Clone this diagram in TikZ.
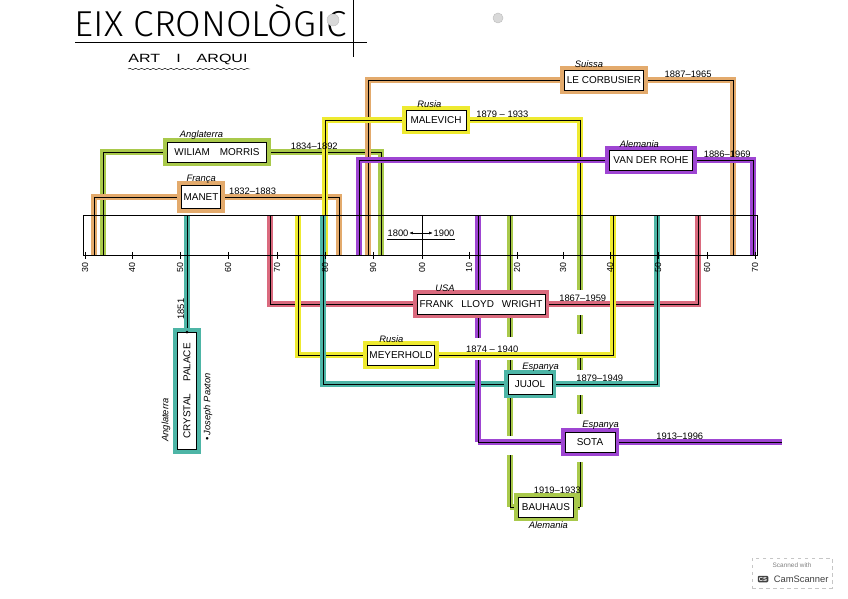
\documentclass[tikz,border=0pt]{standalone}
\usepackage{fontspec}
\setmainfont{Liberation Sans}
\newfontfamily\titlefont{Fira Sans Light}
\usetikzlibrary{positioning,arrows.meta,decorations.pathmorphing,backgrounds}

\definecolor{cgreen}{HTML}{A9C94B}
\definecolor{corange}{HTML}{E3AA6C}
\definecolor{cyellow}{HTML}{EEEA30}
\definecolor{cpurple}{HTML}{9E45D2}
\definecolor{cred}{HTML}{DA6A7E}
\definecolor{cteal}{HTML}{4DB5A6}

\tikzset{
  life/.style={draw=black, line width=0.6pt, preaction={draw=#1, line width=4.5pt}},
  namebox/.style={draw=black, fill=white, line width=0.8pt, inner sep=2pt,
    minimum height=0.6cm, font=\fontsize{8.5}{9}\selectfont,
    preaction={draw=#1, line width=7pt}},
  country/.style={font=\fontsize{8}{9}\selectfont\itshape, inner sep=0.5pt},
  dates/.style={font=\fontsize{8}{9}\selectfont, inner sep=0.5pt},
  decade/.style={font=\fontsize{7.5}{8}\selectfont, rotate=90, inner sep=0.5pt},
}

\begin{document}
\begin{tikzpicture}[x=0.03cm, y=-0.03cm]
    \useasboundingbox (0,0) rectangle (848,599);
    % title
    \node[inner sep=0pt] (title) at (211,21) {\resizebox{8.16cm}{0.96cm}{\titlefont EIX CRONOLÒGIC}};
    \draw[line width=0.8pt] (75,42) -- (367,42);
    \draw[line width=0.8pt] (353,0) -- (353,57);
    \node[inner sep=0pt] (subtitle) at (188,59) {\resizebox{3.57cm}{0.25cm}{ART\hspace{1em}I\hspace{1em}ARQUI}};
    \draw[decorate, decoration={snake, amplitude=0.6pt, segment length=5pt}] (128,69) -- (250,69);
    \filldraw[fill=gray!30, draw=gray!50] (333,20) circle (0.18cm);
    \filldraw[fill=gray!30, draw=gray!50] (498,18) circle (0.15cm);
    % axis
    \draw[line width=0.7pt] (83,215) rectangle (757,255);
    \draw (422,215) -- (422,255);
    \foreach \xx/\lab in {85/30,132/40,180/50,228/60,277/70,325/80,373/90,422/00,
                          469/10,517/20,563/30,610/40,658/50,707/60,755/70} {
        \draw (\xx,252) -- (\xx,259);
        \node[decade, anchor=east] at (\xx,262) {\lab};
    }
    \node[dates] (from) at (398,233) {1800};
    \node[dates] (to) at (444,233) {1900};
    \draw[{Latex[length=3pt]}-{Latex[length=3pt]}] (from.east) -- (to.west);
    \draw ([yshift=-1.5pt]from.south west) -- ([yshift=-1.5pt]to.south east);
    % people above the axis
    \node[namebox=cgreen, minimum width=2.97cm] (morris) at (217,152) {WILIAM\hspace{1em}MORRIS};
    \node[country, above right=1pt and 0.36cm of morris.north west] (morrisC) {Anglaterra};
    \node[dates, above right=1pt and 0.69cm of morris.east] (morrisD) {1834–1892};
    \node[namebox=corange, minimum width=1.14cm, minimum height=0.69cm] (manet) at (201,197) {MANET};
    \node[country, above right=1pt and 0.15cm of manet.north west] (manetC) {França};
    \node[dates, above right=1pt and 0.21cm of manet.east] (manetD) {1832–1883};
    \node[namebox=corange, minimum width=2.31cm] (corb) at (604,80) {LE CORBUSIER};
    \node[country, above right=1pt and 0.3cm of corb.north west] (corbC) {Suissa};
    \node[dates, above right=1pt and 0.6cm of corb.east] (corbD) {1887–1965};
    \node[namebox=cyellow, minimum width=1.8cm] (malevich) at (436,120) {MALEVICH};
    \node[country, above right=1pt and 0.33cm of malevich.north west] (malevichC) {Rusia};
    \node[dates, above right=1pt and 0.27cm of malevich.east] (malevichD) {1879 – 1933};
    \node[namebox=cpurple, minimum width=2.49cm] (vdr) at (651,160) {VAN DER ROHE};
    \node[country, above right=1pt and 0.3cm of vdr.north west] (vdrC) {Alemania};
    \node[dates, above right=1pt and 0.3cm of vdr.east] (vdrD) {1886–1969};
    % people below the axis
    \node[namebox=cred, minimum width=3.84cm] (wright) at (481,304) {FRANK\hspace{0.8em}LLOYD\hspace{0.8em}WRIGHT};
    \node[country, above right=1pt and 0.54cm of wright.north west] (wrightC) {USA};
    \node[dates, above right=1pt and 0.39cm of wright.east] (wrightD) {1867–1959};
    \node[namebox=cyellow, minimum width=2.01cm] (meyer) at (401,355) {MEYERHOLD};
    \node[country, above right=1pt and 0.36cm of meyer.north west] (meyerC) {Rusia};
    \node[dates, above right=1pt and 0.9cm of meyer.east] (meyerD) {1874 – 1940};
    \node[namebox=cteal, minimum width=1.32cm] (jujol) at (530,384) {JUJOL};
    \node[country, above right=1pt and 0.42cm of jujol.north west] (jujolC) {Espanya};
    \node[dates, above right=1pt and 0.69cm of jujol.east] (jujolD) {1879–1949};
    \node[namebox=cpurple, minimum width=1.5cm] (sota) at (590,442) {SOTA};
    \node[country, above right=1pt and 0.51cm of sota.north west] (sotaC) {Espanya};
    \node[dates, above right=1pt and 1.2cm of sota.east] (sotaD) {1913–1996};
    \node[namebox=cgreen, minimum width=1.65cm] (bauhaus) at (546,507) {BAUHAUS};
    \node[dates, above right=2pt and 0.45cm of bauhaus.north west] (bauhausD) {1919–1933};
    \node[country, below right=3pt and 0.3cm of bauhaus.south west] (bauhausC) {Alemania};
    \node[namebox=cteal, rotate=90, minimum width=3.51cm, minimum height=0.57cm] (crystal) at (187,391) {CRYSTAL\hspace{1.2em}PALACE};
    \node[dates, rotate=90] (crystalD) at (181,309) {1851};
    \node[country, rotate=90] (crystalC) at (166,420) {Anglaterra};
    \node[country, rotate=90] (crystalP) at (208,407) {• Joseph Paxton};
    % life lines
    \begin{scope}[on background layer]
        \coordinate (morrisL) at (103,255);  \coordinate (morrisR) at (381,255);
        \coordinate (manetL) at (94,255);    \coordinate (manetR) at (339,255);
        \coordinate (corbL) at (368,255);    \coordinate (corbR) at (733,255);
        \coordinate (malevichL) at (325,255); \coordinate (malevichR) at (580,255);
        \coordinate (vdrL) at (359,255);     \coordinate (vdrR) at (753,255);
        \coordinate (wrightL) at (270,215);  \coordinate (wrightR) at (698,215);
        \coordinate (meyerL) at (298,215);   \coordinate (meyerR) at (613,215);
        \coordinate (jujolL) at (323,215);   \coordinate (jujolR) at (657,215);
        \coordinate (crystalT) at (187,215);
        \coordinate (sotaK) at (478,442);    \coordinate (sotaR) at (782,442);
        \coordinate (bauhausK) at (510,507); \coordinate (bauhausJ) at (580,507);
        \draw[life=cgreen] (morris.west) -| (morrisL);
        \draw[life=cgreen] (morris.east) -| (morrisR);
        \draw[life=corange] (manet.west) -| (manetL);
        \draw[life=corange] (manet.east) -| (manetR);
        \draw[life=corange] (corb.west) -| (corbL);
        \draw[life=corange] (corb.east) -| (corbR);
        \draw[life=cyellow] (malevich.west) -| (malevichL);
        \draw[life=cyellow] (malevich.east) -| (malevichR);
        \draw[life=cpurple] (vdr.west) -| (vdrL);
        \draw[life=cpurple] (vdr.east) -| (vdrR);
        \draw[life=cred] (wright.west) -| (wrightL);
        \draw[life=cred] (wright.east) -| (wrightR);
        \draw[life=cyellow] (meyer.west) -| (meyerL);
        \draw[life=cyellow] (meyer.east) -| (meyerR);
        \draw[life=cteal] (jujol.west) -| (jujolL);
        \draw[life=cteal] (jujol.east) -| (jujolR);
        \draw[life=cteal] (crystal.east) -- (crystalT);
        \draw[life=cpurple] (sota.west) -- (sotaK);
        \draw[life=cpurple] (sota.east) -- (sotaR);
        \foreach \ya/\yb in {215/290, 318/338, 360/442}
            \draw[life=cpurple] (478,\ya) -- (478,\yb);
        \draw[life=cgreen] (bauhaus.west) -- (bauhausK);
        \draw[life=cgreen] (bauhaus.east) -- (bauhausJ);
        \foreach \ya/\yb in {215/290, 318/337, 360/436, 455/507}
            \draw[life=cgreen] (510,\ya) -- (510,\yb);
        \foreach \ya/\yb in {215/290, 315/334, 358/370, 395/414, 462/507}
            \draw[life=cgreen] (580,\ya) -- (580,\yb);
    \end{scope}
    \fill (crystal.east) circle (1.3pt);
    % scanner mark
    \node[draw=gray!45, dashed, minimum width=2.4cm, minimum height=0.9cm] (scan) at (792,573) {};
    \node[font=\fontsize{5.5}{6}\selectfont, text=gray, below=1pt of scan.north] (scanA) {Scanned with};
    \node[fill=black!75, text=white, rounded corners=1pt, inner sep=1pt, font=\fontsize{5}{5}\selectfont\bfseries] (scanB) at (763,579) {CS};
    \node[font=\fontsize{8}{9}\selectfont, text=black!75, right=1pt of scanB] (scanC) {CamScanner};
\end{tikzpicture}
\end{document}
